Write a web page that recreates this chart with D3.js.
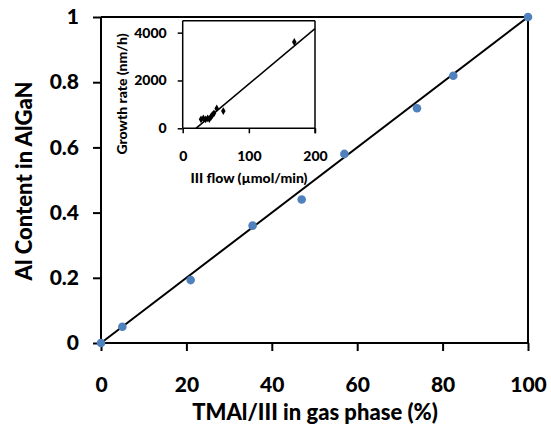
<!DOCTYPE html>
<html>
<head>
<meta charset="utf-8">
<script src="https://cdn.jsdelivr.net/npm/d3@7"></script>
<style>
  html, body { margin: 0; padding: 0; background: #fff; }
  svg { display: block; font-family: Lato, "Open Sans", sans-serif; font-weight: 900; }
</style>
</head>
<body>
<svg id="chart" width="551" height="426"></svg>
<script>
// Main chart data
const tmalRatio = [0, 5, 21, 35.5, 47, 57, 74, 82.5, 100];
const alContent = [0, 0.05, 0.193, 0.36, 0.44, 0.58, 0.72, 0.82, 1.0];
const fitX = [0, 100];
const fitY = [0, 1];
const xTicks = [0, 20, 40, 60, 80, 100];
const yTicks = [0, 0.2, 0.4, 0.6, 0.8, 1];
const yTickLabels = ["0", "0.2", "0.4", "0.6", "0.8", "1"];

// Inset data
const iiiFlow = [27.7, 31.2, 34.7, 37.8, 40.3, 42.8, 44.8, 47.3, 51.4, 61.4, 168.7];
const growthRate = [375, 417, 375, 417, 388, 483, 554, 625, 833, 720, 3608];
const insetFitX = [20, 200];
const insetFitY = [0, 4170];
const insetXTicks = [0, 100, 200];
const insetYTicks = [0, 2000, 4000];

const svg = d3.select("#chart");
const FW = "900";

// ---------- main plot ----------
const x = d3.scaleLinear().domain([0, 100]).range([101, 528]);
const y = d3.scaleLinear().domain([0, 1]).range([343, 17]);

const gx = svg.append("g").attr("transform", "translate(0,343)")
  .call(d3.axisBottom(x).tickValues(xTicks).tickSize(8).tickPadding(26).tickFormat(d3.format("d")));
const gy = svg.append("g").attr("transform", "translate(101,0)")
  .call(d3.axisLeft(y).tickValues(yTicks).tickSize(8).tickPadding(14).tickFormat((d, i) => yTickLabels[i]));
[gx, gy].forEach(g => {
  g.select(".domain").attr("stroke", "#000").attr("stroke-width", 2);
  g.selectAll(".tick line").attr("stroke", "#000").attr("stroke-width", 2);
  g.selectAll(".tick text").attr("fill", "#000").style("font-size", "21px").style("font-family", "Lato, sans-serif").style("font-weight", FW);
});
gx.select(".domain").attr("d", `M${x(0)},0H${x(100)}`);
gy.select(".domain").attr("d", `M0,${y(0)}V${y(1)}`);

// frame top and right
svg.append("line").attr("x1", x(0)).attr("x2", x(100)).attr("y1", y(1)).attr("y2", y(1)).attr("stroke", "#000").attr("stroke-width", 2);
svg.append("line").attr("x1", x(100)).attr("x2", x(100)).attr("y1", y(1)).attr("y2", y(0)).attr("stroke", "#000").attr("stroke-width", 2);

// fit line
svg.append("path")
  .datum(fitX.map((d, i) => [d, fitY[i]]))
  .attr("d", d3.line().x(d => x(d[0])).y(d => y(d[1])))
  .attr("stroke", "#000").attr("stroke-width", 2).attr("fill", "none");

// points
svg.append("g").selectAll("circle")
  .data(tmalRatio.map((d, i) => [d, alContent[i]]))
  .join("circle")
  .attr("cx", d => x(d[0])).attr("cy", d => y(d[1])).attr("r", 4.3)
  .attr("fill", "#4f81bd");

// axis titles
svg.append("text").attr("x", 315).attr("y", 420).attr("text-anchor", "middle")
  .style("font-size", "22px").attr("fill", "#000").text("TMAl/III in gas phase (%)");
svg.append("text").attr("transform", "translate(32,181) rotate(-90)").attr("text-anchor", "middle")
  .style("font-size", "22px").attr("fill", "#000").text("Al Content in AlGaN");

// ---------- inset ----------
const ix = d3.scaleLinear().domain([0, 200]).range([182.7, 315]);
const iy = d3.scaleLinear().domain([0, 4500]).range([128.3, 20.7]);

svg.append("rect").attr("x", ix(0)).attr("y", iy(4500)).attr("width", ix(200) - ix(0)).attr("height", iy(0) - iy(4500)).attr("fill", "#fff");

const igx = svg.append("g").attr("transform", `translate(0,${iy(0)})`)
  .call(d3.axisBottom(ix).tickValues(insetXTicks).tickSize(5).tickPadding(18).tickFormat(d3.format("d")));
const igy = svg.append("g").attr("transform", `translate(${ix(0)},0)`)
  .call(d3.axisLeft(iy).tickValues(insetYTicks).tickSize(5).tickPadding(11).tickFormat(d3.format("d")));
[igx, igy].forEach(g => {
  g.select(".domain").attr("stroke", "#000").attr("stroke-width", 1.5);
  g.selectAll(".tick line").attr("stroke", "#000").attr("stroke-width", 1.5);
  g.selectAll(".tick text").attr("fill", "#000").style("font-size", "14px").style("font-family", "Lato, sans-serif").style("font-weight", FW);
});
igx.select(".domain").attr("d", `M${ix(0)},0H${ix(200)}`);
igy.select(".domain").attr("d", `M0,${iy(0)}V${iy(4500)}`);
svg.append("line").attr("x1", ix(0)).attr("x2", ix(200)).attr("y1", iy(4500)).attr("y2", iy(4500)).attr("stroke", "#000").attr("stroke-width", 1.5);
svg.append("line").attr("x1", ix(200)).attr("x2", ix(200)).attr("y1", iy(4500)).attr("y2", iy(0) + 5).attr("stroke", "#000").attr("stroke-width", 1.5);

svg.append("path")
  .datum(insetFitX.map((d, i) => [d, insetFitY[i]]))
  .attr("d", d3.line().x(d => ix(d[0])).y(d => iy(d[1])))
  .attr("stroke", "#000").attr("stroke-width", 1.5).attr("fill", "none");

const diamond = d3.symbol().type(d3.symbolDiamond).size(18);
svg.append("g").selectAll("path")
  .data(iiiFlow.map((d, i) => [d, growthRate[i]]))
  .join("path")
  .attr("transform", d => `translate(${ix(d[0])},${iy(d[1])})`)
  .attr("d", diamond)
  .attr("fill", "#000");

svg.append("text").attr("x", 249).attr("y", 183).attr("text-anchor", "middle")
  .style("font-size", "14px").attr("fill", "#000").text("III flow (µmol/min)");
svg.append("text").attr("transform", "translate(127,94) rotate(-90)").attr("text-anchor", "middle")
  .style("font-size", "14px").attr("fill", "#000").text("Growth rate (nm/h)");
</script>
</body>
</html>
